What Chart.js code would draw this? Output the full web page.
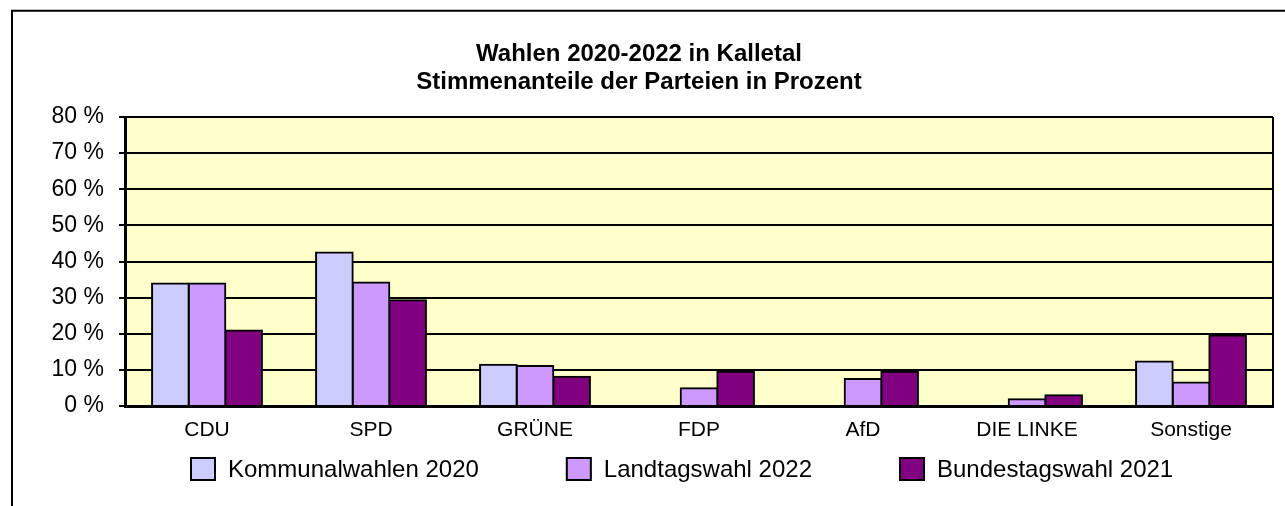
<!DOCTYPE html>
<html>
<head>
<meta charset="utf-8">
<script src="https://cdn.jsdelivr.net/npm/chart.js@4.4.1/dist/chart.umd.min.js"></script>
<style>
  html, body { margin: 0; padding: 0; background: #ffffff; }
  #c { display: block; }
</style>
</head>
<body>
<canvas id="c" width="1285" height="506"></canvas>
<script>
// ---- data ----
const titleLines = ['Wahlen 2020-2022 in Kalletal', 'Stimmenanteile der Parteien in Prozent'];
const categories = ['CDU', 'SPD', 'GRÜNE', 'FDP', 'AfD', 'DIE LINKE', 'Sonstige'];
const seriesNames = ['Kommunalwahlen 2020', 'Landtagswahl 2022', 'Bundestagswahl 2021'];
const kommunal2020 = [33.9, 42.5, 11.4, null, null, null, 12.3];
const landtag2022 = [33.9, 34.2, 11.1, 4.9, 7.5, 1.9, 6.5];
const bundestag2021 = [20.9, 29.3, 8.1, 9.5, 9.5, 3.0, 19.5];
const yTickValues = [0, 10, 20, 30, 40, 50, 60, 70, 80];
const seriesColors = ['#CCCCFF', '#CC99FF', '#800080'];

const FONT = '"Liberation Sans", Arial, sans-serif';

const framePlugin = {
  id: 'frame',
  beforeDraw(chart) {
    const ctx = chart.ctx;
    const a = chart.chartArea;
    ctx.save();
    ctx.fillStyle = '#ffffff';
    ctx.fillRect(0, 0, chart.width, chart.height);
    // outer frame (cut at right and bottom)
    ctx.strokeStyle = '#000';
    ctx.lineWidth = 2;
    ctx.beginPath();
    ctx.moveTo(12, chart.height);
    ctx.lineTo(12, 10.7);
    ctx.lineTo(chart.width, 10.7);
    ctx.stroke();
    // plot background
    ctx.fillStyle = '#FFFFCC';
    ctx.fillRect(a.left, a.top, a.right - a.left, a.bottom - a.top);
    ctx.restore();
  },
  afterDraw(chart) {
    const ctx = chart.ctx;
    const a = chart.chartArea;
    ctx.save();
    // right border of plot
    ctx.strokeStyle = '#000';
    ctx.lineWidth = 2;
    ctx.beginPath();
    ctx.moveTo(a.right, a.top);
    ctx.lineTo(a.right, a.bottom);
    ctx.stroke();
    // title
    ctx.fillStyle = '#000';
    ctx.font = 'bold 24px ' + FONT;
    ctx.textAlign = 'center';
    ctx.textBaseline = 'alphabetic';
    ctx.fillText(titleLines[0], 639, 60.5);
    ctx.fillText(titleLines[1], 639, 88.5);
    // legend from datasets
    ctx.font = '24px ' + FONT;
    const boxW = 26, boxH = 24, gapText = 12, gapItem = 87;
    const ds = chart.data.datasets;
    let x = 190;
    const yTop = 457;
    ctx.textAlign = 'left';
    ctx.textBaseline = 'middle';
    ds.forEach((d) => {
      ctx.fillStyle = d.backgroundColor;
      ctx.fillRect(x, yTop, boxW, boxH);
      ctx.strokeStyle = '#000';
      ctx.lineWidth = 2;
      ctx.strokeRect(x + 1, yTop + 1, boxW - 2, boxH - 2);
      ctx.fillStyle = '#000';
      ctx.fillText(d.label, x + boxW + gapText, yTop + boxH / 2 + 1);
      x += boxW + gapText + ctx.measureText(d.label).width + gapItem;
    });
    ctx.restore();
  }
};

const seriesData = [kommunal2020, landtag2022, bundestag2021];

new Chart(document.getElementById('c'), {
  type: 'bar',
  data: {
    labels: categories,
    datasets: seriesNames.map((name, i) => ({
      label: name,
      data: seriesData[i],
      backgroundColor: seriesColors[i],
      borderColor: '#000',
      borderWidth: 2,
      inflateAmount: 1,
      categoryPercentage: 0.67,
      barPercentage: 1.0
    }))
  },
  options: {
    responsive: false,
    animation: false,
    layout: { padding: { left: 0, right: 12, top: 117, bottom: 0 } },
    plugins: {
      legend: { display: false },
      title: { display: false },
      tooltip: { enabled: false }
    },
    scales: {
      x: {
        grid: { display: false, drawTicks: false },
        border: { display: true, color: '#000', width: 3 },
        ticks: {
          color: '#000',
          font: { family: FONT, size: 21 },
          padding: 12,
          maxRotation: 0,
          autoSkip: false
        },
        afterFit(scale) { scale.height = 100; }
      },
      y: {
        min: 0,
        max: 80,
        afterBuildTicks(scale) { scale.ticks = yTickValues.map(v => ({ value: v })); },
        grid: {
          color: '#000',
          lineWidth: 2,
          tickLength: 6,
          tickColor: '#000',
          drawTicks: true
        },
        border: { display: true, color: '#000', width: 3 },
        ticks: {
          color: '#000',
          font: { family: FONT, size: 23 },
          padding: 15,
          callback: (v) => v + ' %'
        },
        afterFit(scale) { scale.width = 125; }
      }
    }
  },
  plugins: [framePlugin]
});
</script>
</body>
</html>
